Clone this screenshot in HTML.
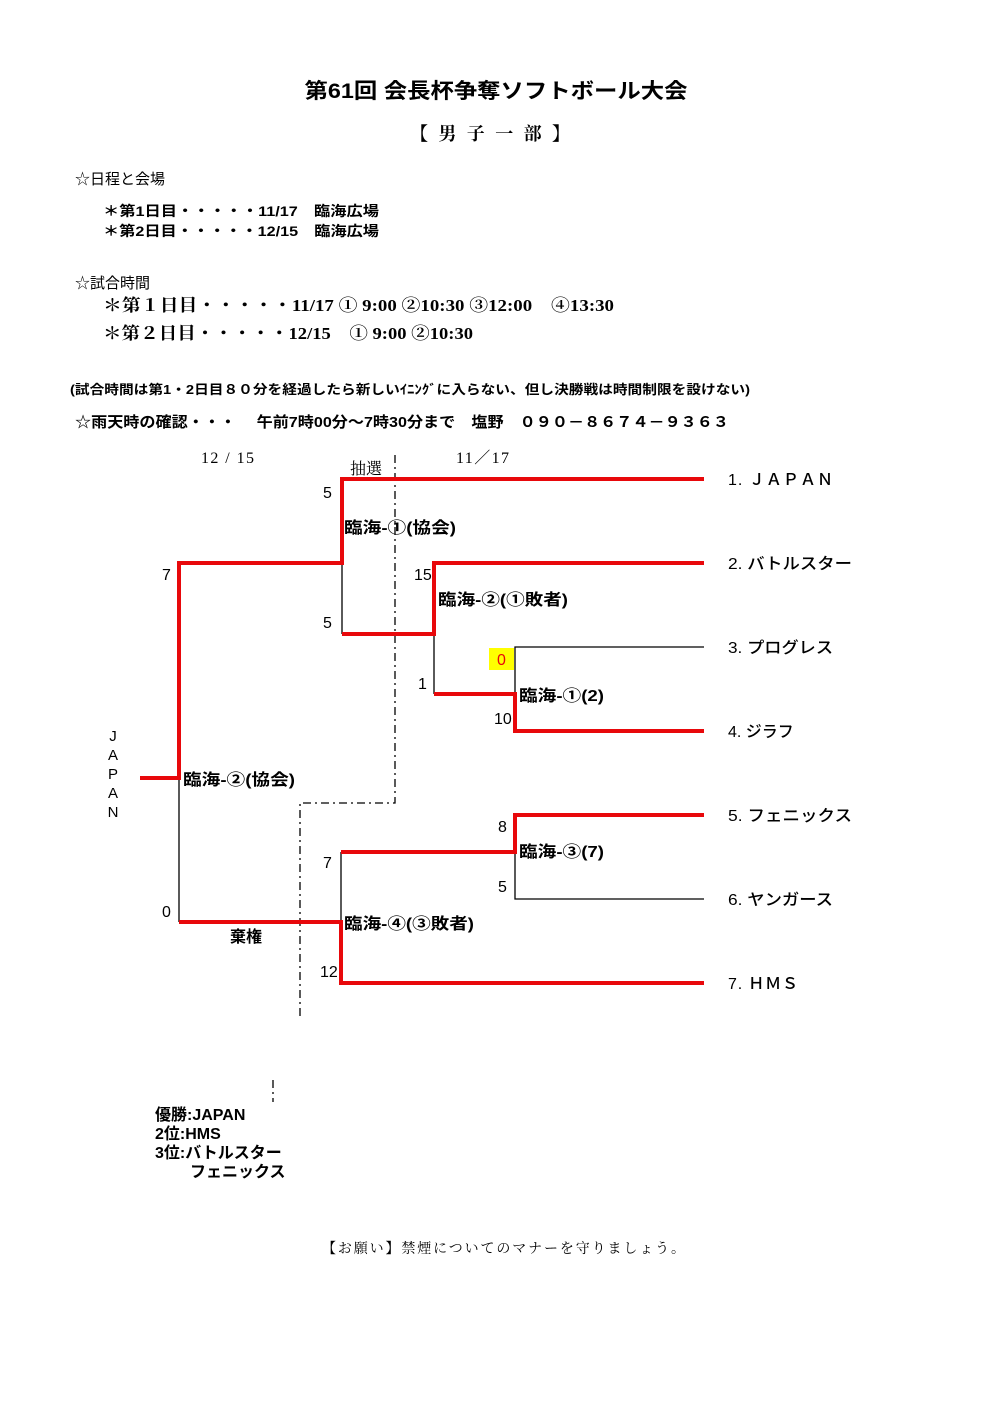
<!DOCTYPE html>
<html><head><meta charset="utf-8"><style>
body{margin:0;background:#fff}
svg{display:block}
.g{font-family:"Liberation Sans","Noto Sans CJK JP",sans-serif}
.s{font-family:"Liberation Serif","Noto Serif CJK SC",serif}
.b{font-weight:bold}
</style></head><body>
<svg width="992" height="1404" viewBox="0 0 992 1404" xmlns="http://www.w3.org/2000/svg">
<rect width="992" height="1404" fill="#fff"/>
<text x="496" y="98" text-anchor="middle" class="g b" font-size="21" textLength="383" lengthAdjust="spacingAndGlyphs">第61回 会長杯争奪ソフトボール大会</text>
<text x="490" y="140" text-anchor="middle" class="s b" font-size="18" textLength="160" lengthAdjust="spacing">【 男 子 一 部 】</text>
<text x="75" y="184" class="g" font-size="15">☆日程と会場</text>
<text x="103" y="216" class="g b" font-size="14" textLength="276" lengthAdjust="spacingAndGlyphs">＊第1日目・・・・・11/17　臨海広場</text>
<text x="103" y="236" class="g b" font-size="14" textLength="276" lengthAdjust="spacingAndGlyphs">＊第2日目・・・・・12/15　臨海広場</text>
<text x="75" y="288" class="g" font-size="15">☆試合時間</text>
<text x="103" y="311" class="s b" font-size="17" textLength="511" lengthAdjust="spacingAndGlyphs">＊第１日目・・・・・11/17 ① 9:00 ②10:30 ③12:00　④13:30</text>
<text x="103" y="339" class="s b" font-size="17" textLength="370" lengthAdjust="spacingAndGlyphs">＊第２日目・・・・・12/15　① 9:00 ②10:30</text>
<text x="70" y="394" class="g b" font-size="13" textLength="680" lengthAdjust="spacingAndGlyphs">(試合時間は第1・2日目８０分を経過したら新しいｲﾆﾝｸﾞに入らない、但し決勝戦は時間制限を設けない)</text>
<text x="75" y="427" class="g b" font-size="15" textLength="654" lengthAdjust="spacingAndGlyphs">☆雨天時の確認・・・　 午前7時00分～7時30分まで　塩野　０９０－８６７４－９３６３</text>
<text x="201" y="463" class="s" font-size="16" textLength="53" lengthAdjust="spacing">12 / 15</text>
<text x="456" y="463" class="s" font-size="16" textLength="53" lengthAdjust="spacing">11／17</text>
<text x="350" y="474" class="s" font-size="16">抽選</text>
<g fill="none" stroke="#000" stroke-width="1.3" stroke-dasharray="8,4,2,4">
<path d="M395 455 V803 H300 V1020"/>
<path d="M273 1080 V1102"/>
</g>
<g fill="none" stroke="#000" stroke-width="1.3">
<path d="M342 563 V634"/><path d="M434 634 V694"/>
<path d="M515 694 V647 H704"/>
<path d="M179 778 V922"/><path d="M341 852 V922"/>
<path d="M515 852 V899 H704"/>
</g>
<g fill="none" stroke="#e8080b" stroke-width="4">
<path d="M704 479 H342 V563 H179 V778 H140"/>
<path d="M342 634 H434 V563 H704"/>
<path d="M434 694 H515 V731 H704"/>
<path d="M179 922 H341 V983 H704"/>
<path d="M341 852 H515 V815 H704"/>
</g>
<rect x="489" y="648" width="25" height="22" fill="#ffff00"/>
<g class="g" font-size="16">
<text x="323" y="498">5</text>
<text x="323" y="628">5</text>
<text x="162" y="580">7</text>
<text x="414" y="580">15</text>
<text x="418" y="689">1</text>
<text x="497" y="665" fill="#e8080b">0</text>
<text x="494" y="724">10</text>
<text x="162" y="917">0</text>
<text x="323" y="868">7</text>
<text x="320" y="977">12</text>
<text x="498" y="832">8</text>
<text x="498" y="892">5</text>
</g>
<g class="g b" font-size="16">
<text x="344" y="533" textLength="112" lengthAdjust="spacingAndGlyphs">臨海-①(協会)</text>
<text x="438" y="605" textLength="130" lengthAdjust="spacingAndGlyphs">臨海-②(①敗者)</text>
<text x="519" y="701" textLength="85" lengthAdjust="spacingAndGlyphs">臨海-①(2)</text>
<text x="183" y="785" textLength="112" lengthAdjust="spacingAndGlyphs">臨海-②(協会)</text>
<text x="519" y="857" textLength="85" lengthAdjust="spacingAndGlyphs">臨海-③(7)</text>
<text x="344" y="929" textLength="130" lengthAdjust="spacingAndGlyphs">臨海-④(③敗者)</text>
<text x="230" y="942">棄権</text>
</g>
<g class="g" font-size="16" font-weight="500">
<text x="728" y="485" textLength="105" lengthAdjust="spacing">1. ＪＡＰＡＮ</text>
<text x="728" y="569" textLength="124" lengthAdjust="spacingAndGlyphs">2. バトルスター</text>
<text x="728" y="653" textLength="105" lengthAdjust="spacingAndGlyphs">3. プログレス</text>
<text x="728" y="737">4. ジラフ</text>
<text x="728" y="821" textLength="124" lengthAdjust="spacingAndGlyphs">5. フェニックス</text>
<text x="728" y="905" textLength="105" lengthAdjust="spacingAndGlyphs">6. ヤンガース</text>
<text x="728" y="989" textLength="70" lengthAdjust="spacing">7. ＨＭＳ</text>
</g>
<g class="g" font-size="15" text-anchor="middle">
<text x="113" y="741">J</text><text x="113" y="760">A</text><text x="113" y="779">P</text><text x="113" y="798">A</text><text x="113" y="817">N</text>
</g>
<g class="g b" font-size="16">
<text x="155" y="1120">優勝:JAPAN</text>
<text x="155" y="1139">2位:HMS</text>
<text x="155" y="1158">3位:バトルスター</text>
<text x="190" y="1177">フェニックス</text>
</g>
<text x="322" y="1253" class="s" font-size="14" textLength="363" lengthAdjust="spacing">【お願い】禁煙についてのマナーを守りましょう。</text>
</svg>
</body></html>
